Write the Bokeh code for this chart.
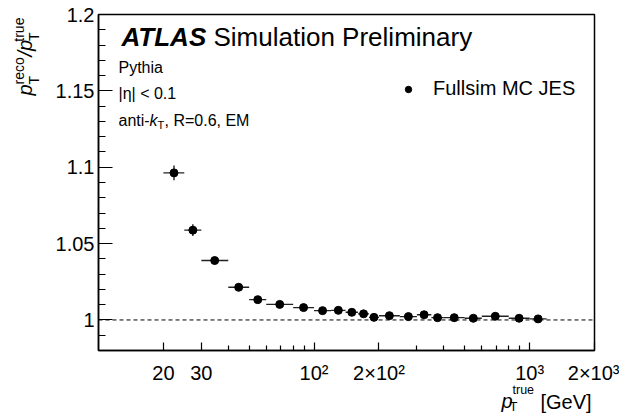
import numpy as np
from bokeh.plotting import figure
from bokeh.models import (Range1d, FixedTicker, CustomJSTickFormatter,
                          Span, Label, Legend, LegendItem, ColumnDataSource)
from bokeh.embed import file_html
from bokeh.resources import INLINE

# ---------------- data ----------------
bin_lo = [20, 25, 30, 40, 50, 60, 80, 100, 120, 140, 160, 180, 200, 250, 300, 350, 400, 500, 600, 800, 1000]
bin_hi = [25, 30, 40, 50, 60, 80, 100, 120, 140, 160, 180, 200, 250, 300, 350, 400, 500, 600, 800, 1000, 1200]
pt_true = [22.4, 27.4, 34.6, 44.7, 54.8, 69.3, 89.4, 109.5, 129.6, 149.7, 169.7, 189.7,
           223.6, 273.9, 324, 374, 447, 548, 693, 894, 1095]
response = [1.0963, 1.0588, 1.0389, 1.0214, 1.0133, 1.0102, 1.0081, 1.0061, 1.0063, 1.0050, 1.0040,
            1.0017, 1.0028, 1.0022, 1.0034, 1.0015, 1.0015, 1.0011, 1.0024, 1.0011, 1.0007]
response_err = [0.0048, 0.0038, 0.0020, 0.0015, 0.0012, 0.0010, 0.0009, 0.0008, 0.0008, 0.0008, 0.0008,
                0.0008, 0.0007, 0.0007, 0.0007, 0.0007, 0.0007, 0.0007, 0.0007, 0.0007, 0.0007]

x_tick_values = [20, 30, 100, 200, 1000, 2000]
x_tick_labels = ["20", "30", "10\u00b2", "2\u00d710\u00b2", "10\u00b3", "2\u00d710\u00b3"]
x_minor_ticks = [40, 50, 60, 70, 80, 90, 300, 400, 500, 600, 700, 800, 900]
y_tick_values = [1.0, 1.05, 1.1, 1.15, 1.2]
y_minor_ticks = [0.99, 1.01, 1.02, 1.03, 1.04, 1.06, 1.07, 1.08, 1.09,
                 1.11, 1.12, 1.13, 1.14, 1.16, 1.17, 1.18, 1.19]

FONT = "Liberation Sans"
NB = "\u00a0"

src = ColumnDataSource(dict(
    x=pt_true, y=response, lo=bin_lo, hi=bin_hi,
    ylo=[v - e for v, e in zip(response, response_err)],
    yhi=[v + e for v, e in zip(response, response_err)],
))

p = figure(width=619, height=414, x_axis_type="log",
           x_range=Range1d(10, 2000), y_range=Range1d(0.98, 1.2),
           output_backend="svg", toolbar_location=None,
           min_border_left=98, min_border_right=25, min_border_top=14, min_border_bottom=64)
p.xgrid.visible = False
p.ygrid.visible = False
p.background_fill_color = "white"
p.border_fill_color = "white"
p.outline_line_color = "black"
p.outline_line_width = 1.5

# x axis
xa = p.xaxis[0]
xa.ticker = FixedTicker(ticks=x_tick_values, minor_ticks=x_minor_ticks)
xa.major_label_overrides = {v: l for v, l in zip(x_tick_values, x_tick_labels)}
xa.major_tick_in = 8
xa.major_tick_out = 0
xa.minor_tick_in = 5
xa.minor_tick_out = 0
xa.major_label_standoff = 11
xa.major_label_text_font = FONT
xa.major_label_text_font_size = "20px"
xa.major_label_text_color = "black"
xa.axis_line_width = 1.5
xa.major_tick_line_width = 1.2
xa.minor_tick_line_width = 1.2

# y axis
ya = p.yaxis[0]
ya.ticker = FixedTicker(ticks=y_tick_values, minor_ticks=y_minor_ticks)
ya.formatter = CustomJSTickFormatter(code="""
    let s = tick.toFixed(2);
    s = s.replace(/0+$/, '').replace(/\\.$/, '');
    return s;
""")
ya.major_tick_in = 14
ya.major_tick_out = 0
ya.minor_tick_in = 7
ya.minor_tick_out = 0
ya.major_label_standoff = 4
ya.major_label_text_font = FONT
ya.major_label_text_font_size = "20px"
ya.major_label_text_color = "black"
ya.axis_line_width = 1.5
ya.major_tick_line_width = 1.2
ya.minor_tick_line_width = 1.2

# reference line at 1
p.add_layout(Span(location=1.0, dimension="width", line_color="black",
                  line_width=1, line_dash="4 3"))

# error bars
p.segment(x0="lo", x1="hi", y0="y", y1="y", source=src, line_color="#222222", line_width=1.4)
p.segment(x0="x", x1="x", y0="ylo", y1="yhi", source=src, line_color="#222222", line_width=1.4)
pts = p.scatter(x="x", y="y", source=src, size=8, marker="circle",
                fill_color="black", line_color="black")

# legend
legend = Legend(items=[LegendItem(label="Fullsim MC JES", renderers=[pts])],
                border_line_color=None, background_fill_alpha=0,
                label_text_font=FONT, label_text_font_size="20px", label_text_color="black",
                glyph_width=16, glyph_height=16, label_standoff=17,
                padding=0, spacing=0, margin=0)
p.add_layout(legend)
legend.location = (302, 250)


def lab(text, x, y, size, style="normal", angle=0.0, place="center"):
    p.add_layout(Label(x=x, y=y, x_units="canvas", y_units="canvas", text=text,
                       text_font=FONT, text_font_size=f"{size}px", text_font_style=style,
                       text_color="black", angle=angle, text_align="left",
                       text_baseline="alphabetic"), place)


# ATLAS header (inside the frame)
lab("ATLAS", 121, 36, 26, "bold italic")
lab("Simulation Preliminary", 213, 36, 26)
lab("Pythia", 118, 67, 16)
lab("|\u03b7| < 0.1", 118, 93, 16)
lab("anti-", 118, 120, 16)
lab("k", 149, 120, 16, "italic")
lab("T", 157, 124, 11)
lab(", R=0.6, EM", 164, 120, 16)

# x title  (pieces spread over the side panels so the frame keeps its place)
lab("p", 501, 400, 20, "italic", place="left")
lab("true", 512, 389, 12.5, place="above")
lab("T", 509, 406, 13, place="right")
lab("[GeV]", 540, 401, 20, place="below")

# y title (rotated)
A = np.pi / 2
lab("p" + NB * 5 + "/p", 24, 95, 20, "italic", A, "left")
lab("reco" + NB * 4 + "true", 18, 84, 14, "normal", A, "left")
lab("T" + NB * 9 + "T", 33, 84, 14, "normal", A, "right")

open("out.html", "w").write(file_html(p, INLINE))
